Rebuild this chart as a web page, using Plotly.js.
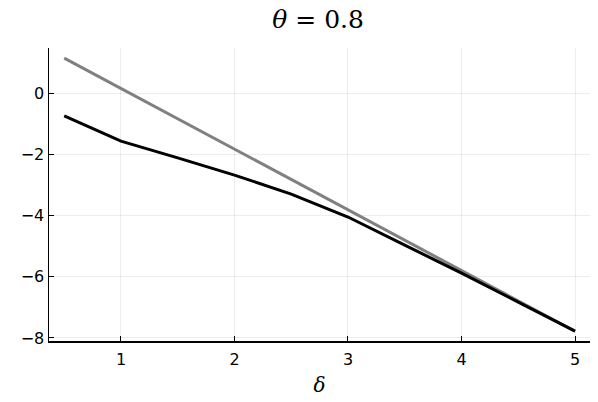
<!DOCTYPE html>
<html><head><script src="https://cdn.plot.ly/plotly-3.0.1.min.js"></script>
<style>body{margin:0}</style></head><body>
<div id="c" style="width:598px;height:402px"></div>
<script>
const delta = [0.5, 1, 1.5, 2, 2.5, 3, 3.5, 4, 4.5, 5];
const grayY = [1.14, 0.15, -0.84, -1.83, -2.82, -3.81, -4.80, -5.79, -6.78, -7.78];
const blackY = [-0.75, -1.57, -2.12, -2.68, -3.30, -4.05, -4.97, -5.88, -6.83, -7.78];
const xTicks = [1, 2, 3, 4, 5];
const yTicks = [0, -2, -4, -6, -8];
const yTickText = ['0', '\u22122', '\u22124', '\u22126', '\u22128'];

Plotly.newPlot('c', [
  {x: delta, y: grayY, mode: 'lines', line: {color: '#808080', width: 3}, showlegend: false},
  {x: delta, y: blackY, mode: 'lines', line: {color: '#000000', width: 3}, showlegend: false}
], {
  width: 598, height: 402,
  margin: {l: 49, r: 8, t: 48, b: 61},
  paper_bgcolor: '#fff', plot_bgcolor: '#fff',
  title: {text: '<i>θ</i> = 0.8', x: 0.532, xanchor: 'center', y: 0.953, yanchor: 'middle',
    font: {family: 'DejaVu Serif', size: 25, color: '#000'}},
  xaxis: {range: [0.366, 5.132], tickvals: xTicks, ticktext: xTicks.map(String),
    ticks: 'inside', ticklen: 5, tickcolor: '#000', showline: true, linecolor: '#000', linewidth: 1.5,
    showgrid: true, gridcolor: 'rgba(0,0,0,0.07)', gridwidth: 1, zeroline: false,
    ticklabelstandoff: 3,
    tickfont: {family: 'DejaVu Sans', size: 16, color: '#000'},
    title: {text: '<i>δ</i>', font: {family: 'DejaVu Serif', size: 20, color: '#000'}, standoff: 10}},
  yaxis: {range: [-8.1, 1.47], tickvals: yTicks, ticktext: yTickText,
    ticks: 'inside', ticklen: 5, tickcolor: '#000', showline: true, linecolor: '#000', linewidth: 1.5,
    showgrid: true, gridcolor: 'rgba(0,0,0,0.07)', gridwidth: 1, zeroline: false,
    tickfont: {family: 'DejaVu Sans', size: 16, color: '#000'}}
}, {staticPlot: true});
</script></body></html>
